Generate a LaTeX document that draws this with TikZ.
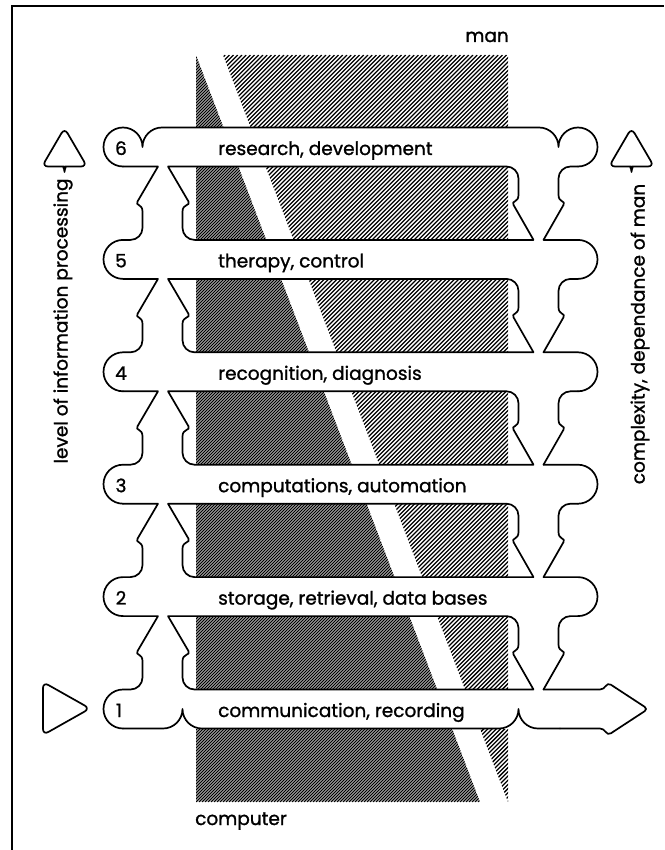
\documentclass[tikz,border=0pt]{standalone}
\usepackage{fontspec}
\setmainfont{Poppins}[FakeBold=1.2]
\begin{document}
\begin{tikzpicture}[x=1pt,y=1pt,yscale=-1,
  ol/.style={line width=1.7pt,line cap=round,line join=round},
  lab/.style={font=\fontsize{18.5}{22}\selectfont, inner sep=0pt},
  hd/.style={line width=1.3pt},
  hl/.style={line width=1.25pt}]
\useasboundingbox (0,0) rectangle (664,850);
\fill[white] (0,0) rectangle (664,850);
% frame
\draw[line width=1.4pt] (12,850) -- (12,6) -- (664,6);
% hatching
\begin{scope}
\clip (196,55) -- (480,802) -- (196,802) -- cycle;
\foreach \s in {248,251,...,1290} \draw[hd] (\s-802,802) -- (\s-55,55);
\end{scope}
\begin{scope}
\clip (223,55) -- (508,55) -- (508,802) -- cycle;
\foreach \s in {276,280.2,...,1320} \draw[hl] (\s-802,802) -- (\s-55,55);
\end{scope}
% white bars over hatching
\foreach \c in {147,259.4,371.8,484.2,596.6,709}
  \fill[white] (190,\c-19.5) rectangle (515,\c+19.5);
% connectors between levels
\foreach \U in {147,259.4,371.8,484.2,596.6} {
  \pgfmathsetmacro\By{\U+19.5}
  \pgfmathsetmacro\Ly{\U+112.4}
  \pgfmathsetmacro\Ty{\Ly-19.5}
  \draw[ol] (123,\By) -- (158,\By) -- (137.5,\By+35) .. controls (135,\By+39.5) and (142.5,\By+37) .. (142.5,\By+45)
     -- (142.5,\Ty-12) arc[start angle=0,end angle=90,radius=12] -- (123,\Ty)
     arc[start angle=270,end angle=90,radius=19.5];
  \draw[ol] (168,\By) -- (188.5,\By+35) .. controls (191,\By+39.5) and (182.5,\By+37) .. (182.5,\By+45)
     -- (182.5,\Ty-12) arc[start angle=180,end angle=90,radius=12] -- (533.5,\Ty)
     -- (513.5,\Ty-35) .. controls (511,\Ty-39.5) and (518.5,\Ty-37) .. (518.5,\Ty-45)
     -- (518.5,\By+12) arc[start angle=0,end angle=-90,radius=12] -- cycle;
  \draw[ol] (578,\By) -- (570.5,\By) arc[start angle=270,end angle=180,radius=12]
     -- (558.5,\Ty-45) .. controls (558.5,\Ty-37) and (566,\Ty-39.5) .. (563.5,\Ty-35) -- (543.5,\Ty);
}
% right lobes of levels 5..2
\foreach \c in {259.4,371.8,484.2,596.6}
  \draw[ol] (543.5,\c-19.5) -- (578,\c-19.5) arc[start angle=270,end angle=450,radius=19.5];
% level 6 top
\draw[ol] (123,166.5) arc[start angle=90,end angle=360,radius=19.5]
   arc[start angle=180,end angle=270,radius=19.5] -- (539,127.5)
   arc[start angle=270,end angle=360,radius=19.5] arc[start angle=180,end angle=450,radius=19.5];
% level 1 arrow and bottom
\draw[ol,rounded corners=4pt] (543.5,689.5) -- (604,689.5) -- (607.5,682.5) -- (648,709)
   -- (607.5,735.5) -- (604,728.5) -- (560,728.5);
\draw[ol] (560,728.5) -- (538,728.5) arc[start angle=90,end angle=180,radius=19.5]
   arc[start angle=0,end angle=90,radius=19.5] -- (202,728.5)
   arc[start angle=90,end angle=180,radius=19.5] arc[start angle=0,end angle=90,radius=19.5] -- (123,728.5);
% side arrows
\draw[ol,rounded corners=6pt] (43,682) -- (90,708.5) -- (43,735) -- cycle;
\foreach \X in {64.5,631.5}
  \draw[ol,rounded corners=6pt] (\X,172) .. controls (\X,168) and (\X-2.5,166.5) .. (\X-6.5,166.5)
     -- (\X-22.5,166.5) -- (\X,128) -- (\X+22.5,166.5) -- (\X+6.5,166.5)
     .. controls (\X+2.5,166.5) and (\X,168) .. (\X,172);
% texts
\node[lab,anchor=base west] (t6) at (218,155) {research, development};
\node[lab,anchor=base west] (t5) at (218,267.4) {therapy, control};
\node[lab,anchor=base west] (t4) at (218,379.8) {recognition, diagnosis};
\node[lab,anchor=base west] (t3) at (218,492.2) {computations, automation};
\node[lab,anchor=base west] (t2) at (218,604.6) {storage, retrieval, data bases};
\node[lab,anchor=base west] (t1) at (218,717) {communication, recording};
\node[lab,anchor=base] (n6) at (121,155) {6};
\node[lab,anchor=base] (n5) at (121,267.4) {5};
\node[lab,anchor=base] (n4) at (121,379.8) {4};
\node[lab,anchor=base] (n3) at (121,492.2) {3};
\node[lab,anchor=base] (n2) at (121,604.6) {2};
\node[lab,anchor=base] (n1) at (119,717) {1};
\node[lab,anchor=base east] (man) at (509,42) {man};
\node[lab,anchor=base west] (comp) at (195,825) {computer};
\node[lab,rotate=90] (lvl) at (63,321) {level of information processing};
\node[lab,rotate=90] (cpx) at (640,334) {complexity, dependance of man};
\end{tikzpicture}
\end{document}
